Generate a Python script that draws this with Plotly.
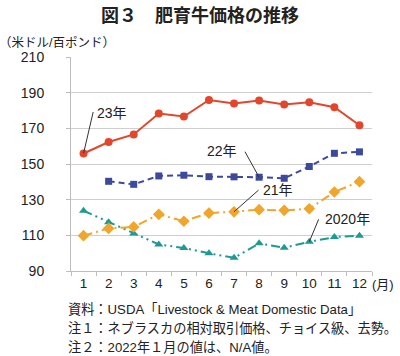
import plotly.graph_objects as go

months = [str(m) for m in range(1, 13)]
y2023 = [155.9, 162.3, 166.6, 178.3, 176.6, 185.9, 183.9, 185.6, 183.3, 184.6, 181.8, 171.7]
y2022 = [None, 140.3, 138.6, 143.3, 143.7, 142.9, 142.8, 142.6, 142.0, 148.6, 156.0, 156.8]
y2021 = [109.8, 113.9, 114.7, 121.8, 117.9, 122.5, 123.2, 124.4, 124.0, 124.9, 134.3, 140.1]
y2020 = [123.8, 117.4, 111.0, 104.9, 102.9, 99.9, 97.4, 105.5, 103.0, 106.4, 109.0, 109.8]
y_ticks = [90, 110, 130, 150, 170, 190, 210]

C23, C22, C21, C20 = "#E2472B", "#3D4A9C", "#F0A62A", "#1F9A93"

W, H = 400, 356
L, R, T, B = 71, 28, 57, 85
PW, PH = W - L - R, H - T - B


def px(x):
    return (x - L) / PW


def py(y):
    return (H - B - y) / PH


fig = go.Figure()
fig.add_trace(go.Scatter(x=months, y=y2020, mode="lines+markers", name="2020年",
                         line=dict(color=C20, width=2, dash="9px,4px,2px,4px,2px,4px"),
                         marker=dict(symbol="triangle-up", size=8, color=C20)))
fig.add_trace(go.Scatter(x=months, y=y2021, mode="lines+markers", name="21年",
                         line=dict(color=C21, width=2, dash="9px,4px,2px,4px"),
                         marker=dict(symbol="diamond", size=9, color=C21)))
fig.add_trace(go.Scatter(x=months, y=y2022, mode="lines+markers", name="22年",
                         line=dict(color=C22, width=2, dash="6px,4px"),
                         marker=dict(symbol="square", size=7, color=C22)))
fig.add_trace(go.Scatter(x=months, y=y2023, mode="lines+markers", name="23年",
                         line=dict(color=C23, width=2),
                         marker=dict(symbol="circle", size=8, color=C23)))

FONT = "Liberation Sans, Arial, Noto Sans CJK JP, sans-serif"
FONT_JP = "Noto Sans CJK JP, sans-serif"

fig.update_layout(
    width=W, height=H,
    margin=dict(l=L, r=R, t=T, b=B),
    paper_bgcolor="white", plot_bgcolor="white",
    showlegend=False,
    xaxis=dict(type="category", tickson="boundaries", ticks="outside", ticklen=4,
               tickcolor="#BDBDBD", showline=True, linecolor="#BDBDBD", linewidth=1,
               showgrid=False, tickfont=dict(family=FONT, size=13.5, color="#222"),
               range=[-0.5, 11.5]),
    yaxis=dict(range=[90, 210], tickvals=y_ticks, ticks="outside", ticklen=4,
               tickcolor="#BDBDBD", showline=True, linecolor="#BDBDBD", linewidth=1,
               showgrid=True, gridcolor="#CFCFCF", gridwidth=1.2, zeroline=False,
               ticklabelstandoff=19,
               tickfont=dict(family=FONT, size=14, color="#222")),
)

texts = [
    ("<b>図３　肥育牛価格の推移</b>", 200, 14, 18, "center", FONT_JP),
    ("（米ドル/百ポンド）", -3, 43, 12.5, "left", FONT),
    ("(月)", 370, 284, 13, "left", FONT),
    ("資料：USDA「Livestock &amp; Meat Domestic Data」", 66, 309, 13.2, "left", FONT),
    ("注１：ネブラスカの相対取引価格、チョイス級、去勢。", 66, 328, 13.2, "left", FONT),
    ("注２：2022年１月の値は、N/A値。", 66, 347, 13.2, "left", FONT),
]
for txt, x, y, size, anchor, fam in texts:
    fig.add_annotation(text=txt, xref="paper", yref="paper", x=px(x), y=py(y),
                       xanchor=anchor, yanchor="middle", showarrow=False,
                       font=dict(family=fam, size=size, color="#222"))

# series labels with leader lines (x given as category index)
labels = [
    ("23年", 1, y2023[0], 10, -43, 112, 113),
    ("22年", 8, y2022[7], -15, -27, 222, 151),
    ("21年", 7, y2021[6], 26, -23, 278, 190),
    ("2020年", 10, y2020[9], 10, -24, 347, 219),
]
for txt, m, v, ax, ay, tx, ty in labels:
    fig.add_annotation(x=m - 1, y=v, xref="x", yref="y", text="", showarrow=True,
                       ax=ax, ay=ay, arrowhead=0, arrowwidth=1, arrowcolor="#333", standoff=0)
    fig.add_annotation(text=txt, xref="paper", yref="paper", x=px(tx), y=py(ty),
                       xanchor="center", yanchor="middle", showarrow=False,
                       font=dict(family=FONT, size=14, color="#222"))

fig.write_html("out.html", config={"displayModeBar": False},
               post_script="document.body.style.margin='0px';")
